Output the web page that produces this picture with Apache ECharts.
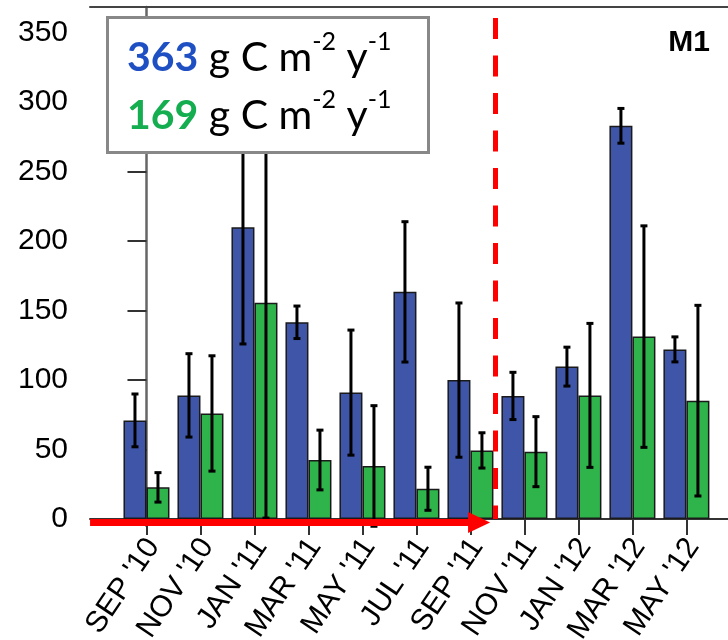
<!DOCTYPE html>
<html><head><meta charset="utf-8">
<script src="https://cdn.jsdelivr.net/npm/echarts@6/dist/echarts.min.js"></script>
<style>html,body{margin:0;padding:0;background:#fff}#c{width:728px;height:640px}</style>
</head><body><div id="c"></div>
<script>
const categories = ["SEP '10","NOV '10","JAN '11","MAR '11","MAY '11","JUL '11","SEP '11","NOV '11","JAN '12","MAR '12","MAY '12"];
const blueValues  = [71, 89, 210, 141.6, 91, 163.5, 100, 88.6, 109.7, 283, 122.1];
const blueErrors  = [19, 30, 84, 11.7, 45, 50.5, 55.5, 17, 14, 12.5, 9];
const greenValues = [22.8, 76, 155.7, 42.5, 38.2, 21.8, 49.4, 48.5, 89, 131.3, 85.2];
const greenErrors = [10.6, 41.5, 155, 21.5, 43.4, 15.5, 12.7, 25.2, 51.8, 79.7, 68.6];
const yTicks = [0, 50, 100, 150, 200, 250, 300, 350];
const totalBlue = 363;
const totalGreen = 169;
const siteLabel = 'M1';
const dividerAt = 6.46;   // between SEP '11 and NOV '11
const arrowEnd = 6.16;
const arrowLevel = -2.5;

const X_MIN = -1.046, X_MAX = 10.77, Y_MIN = -5, Y_MAX = 368.5;
const catIdx = categories.map((c, i) => i);
const FONT = 'Liberation Sans';
const BLUE = '#3F56A8', GREEN = '#2EB44A';

function makeErr(side) {
  return function (params, api) {
    const x = api.value(0), v = api.value(1), e = api.value(2);
    const top = api.coord([x, v + e]);
    const bot = api.coord([x, v - e]);
    const cx = top[0] + side * 11.5;
    const st = { stroke: '#000', lineWidth: 3 };
    return { type: 'group', children: [
      { type: 'line', shape: { x1: cx, y1: top[1], x2: cx, y2: bot[1] }, style: st },
      { type: 'line', shape: { x1: cx - 3.5, y1: top[1], x2: cx + 3.5, y2: top[1] }, style: st },
      { type: 'line', shape: { x1: cx - 3.5, y1: bot[1], x2: cx + 3.5, y2: bot[1] }, style: st }
    ]};
  };
}

const chart = echarts.init(document.getElementById('c'), null, { renderer: 'canvas' });
const unit = '{t| g C m}{s|-2}{t| y}{s|-1}';
chart.setOption({
  animation: false,
  backgroundColor: '#fff',
  grid: { left: 90, right: 0, top: 7, bottom: 114, containLabel: false, outerBoundsMode: 'none' },
  title: [
    {
      left: 107, top: 17, z: 10,
      text: '{b|' + totalBlue + '}' + unit + '\n{g|' + totalGreen + '}' + unit,
      backgroundColor: '#fff', borderColor: '#888', borderWidth: 3,
      padding: [12, 37, 16, 20],
      textStyle: {
        rich: {
          b: { fontFamily: 'Lato', fontWeight: 'bold', fontSize: 41, color: '#1F50C3', lineHeight: 58 },
          g: { fontFamily: 'Lato', fontWeight: 'bold', fontSize: 41, color: '#14AD50', lineHeight: 58 },
          t: { fontFamily: 'Lato', fontWeight: 'normal', fontSize: 41, color: '#000', lineHeight: 58 },
          s: { fontFamily: 'Lato', fontWeight: 'normal', fontSize: 25, color: '#000', lineHeight: 42, verticalAlign: 'top' }
        }
      }
    },
    {
      right: 13, top: 23, text: siteLabel,
      textStyle: { fontFamily: FONT, fontWeight: 'bold', fontSize: 30, color: '#000' }
    }
  ],
  xAxis: [
    {
      type: 'value', min: X_MIN, max: X_MAX, position: 'bottom',
      axisLine: { show: true, onZero: true, lineStyle: { color: '#333', width: 2 } },
      axisTick: { show: true, customValues: catIdx, length: 16, lineStyle: { color: '#333', width: 2 } },
      axisLabel: { customValues: catIdx, formatter: v => categories[Math.round(v)], rotate: 56, margin: 11,
                   verticalAlign: 'top', lineHeight: 16,
                   fontFamily: FONT, fontSize: 30, color: '#000' },
      splitLine: { show: false }
    },
    {
      type: 'value', min: X_MIN, max: X_MAX, position: 'top',
      axisLine: { show: true, onZero: false, lineStyle: { color: '#444', width: 2 } },
      axisTick: { show: false }, axisLabel: { show: false }, splitLine: { show: false }
    }
  ],
  yAxis: {
    type: 'value', min: Y_MIN, max: Y_MAX,
    axisLine: { show: true, lineStyle: { color: '#666', width: 2.5 } },
    axisTick: { show: true, customValues: yTicks, length: 19, lineStyle: { color: '#333', width: 2 } },
    axisLabel: { customValues: yTicks, margin: 22, fontFamily: FONT, fontSize: 30, color: '#000', padding: [8, 0, 0, 0] },
    splitLine: { show: false }
  },
  series: [
    {
      type: 'bar', name: 'blue', barWidth: 23, barGap: '0%',
      data: catIdx.map(i => [i, blueValues[i]]),
      itemStyle: { color: BLUE, borderColor: '#1a1a1a', borderWidth: 1.5 }
    },
    {
      type: 'bar', name: 'green', barWidth: 23, barGap: '0%',
      data: catIdx.map(i => [i, greenValues[i]]),
      itemStyle: { color: GREEN, borderColor: '#1a1a1a', borderWidth: 1.5 }
    },
    {
      type: 'custom', z: 3, renderItem: makeErr(-1),
      data: catIdx.map(i => [i, blueValues[i], blueErrors[i]]),
      encode: { x: 0, y: 1 }
    },
    {
      type: 'custom', z: 3, renderItem: makeErr(1),
      data: catIdx.map(i => [i, greenValues[i], greenErrors[i]]),
      encode: { x: 0, y: 1 },
      markLine: {
        silent: true, symbol: 'none', label: { show: false },
        data: [
          [
            { coord: [dividerAt, 360.6], lineStyle: { color: '#ff0000', width: 5, type: [21, 16.5] } },
            { coord: [dividerAt, 0] }
          ],
          [
            { coord: [X_MIN + 0.001, arrowLevel], symbol: 'none', lineStyle: { color: '#ff0000', width: 7, type: 'solid' } },
            { coord: [arrowEnd, arrowLevel], symbol: 'triangle', symbolSize: [21, 22],
              itemStyle: { color: '#ff0000' } }
          ]
        ]
      }
    }
  ]
});
</script></body></html>
